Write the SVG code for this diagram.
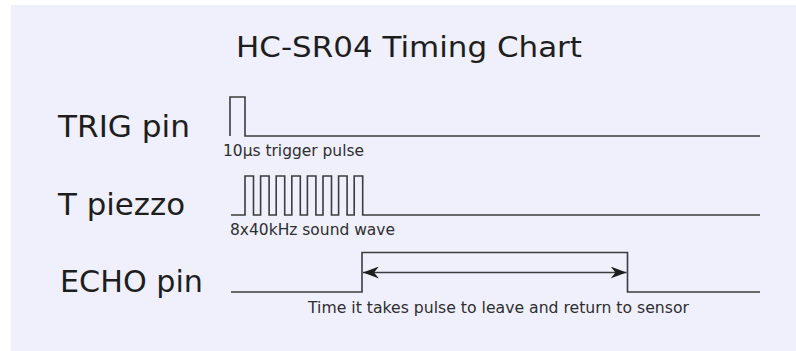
<svg xmlns="http://www.w3.org/2000/svg" width="796" height="351" viewBox="0 0 796 351">
<defs>
<style>
.bg{fill:#f0f0fc}
.lbl{font-family:"DejaVu Sans","Liberation Sans",sans-serif;fill:#1e1e1e}
.big{font-size:30px}
.small{font-size:15px;fill:#2e2e2e}
.sig{fill:none;stroke:#3c3c3c;stroke-width:1.6;stroke-linejoin:miter}
</style>
<marker id="ah" viewBox="0 0 16 12" refX="16" refY="6" markerWidth="16" markerHeight="12" markerUnits="userSpaceOnUse" orient="auto-start-reverse">
<path d="M0,0 L16,6 L0,12 L5,6 Z" fill="#1e1e1e"/>
</marker>
</defs>
<rect x="0" y="0" width="796" height="351" fill="#ffffff"/>
<rect class="bg" x="11" y="5" width="785" height="346"/>
<g id="title">
<text class="lbl" x="236" y="57" font-size="29" textLength="346" lengthAdjust="spacingAndGlyphs">HC-SR04 Timing Chart</text>
</g>
<g id="trig">
<text class="lbl big" x="58" y="137" textLength="132" lengthAdjust="spacingAndGlyphs">TRIG pin</text>
<text class="lbl small" x="223" y="156" textLength="141" lengthAdjust="spacingAndGlyphs">10µs trigger pulse</text>
</g>
<g id="piezzo">
<text class="lbl big" x="58" y="215" textLength="127" lengthAdjust="spacingAndGlyphs">T piezzo</text>
<text class="lbl small" x="230" y="235" textLength="165" lengthAdjust="spacingAndGlyphs">8x40kHz sound wave</text>
</g>
<g id="echo">
<text class="lbl big" x="60" y="292" textLength="143" lengthAdjust="spacingAndGlyphs">ECHO pin</text>
<text class="lbl small" x="308" y="313" textLength="381" lengthAdjust="spacingAndGlyphs">Time it takes pulse to leave and return to sensor</text>
</g>
<g id="connectors">
<path class="sig" d="M230,136 V97 H245 V136 H760"/>
<path class="sig" d="M231,215 H245 V176 H253.5 V215 H260.6 V176 H269.1 V215 H276.2 V176 H284.7 V215 H291.8 V176 H300.3 V215 H307.4 V176 H315.9 V215 H323 V176 H331.5 V215 H338.6 V176 H347.1 V215 H354.2 V176 H362.7 V215 H760"/>
<path class="sig" d="M231,292 H362 V252.5 H627.5 V292 H760"/>
<line class="sig" x1="363" y1="272.5" x2="626.5" y2="272.5" marker-start="url(#ah)" marker-end="url(#ah)"/>
</g>
</svg>
